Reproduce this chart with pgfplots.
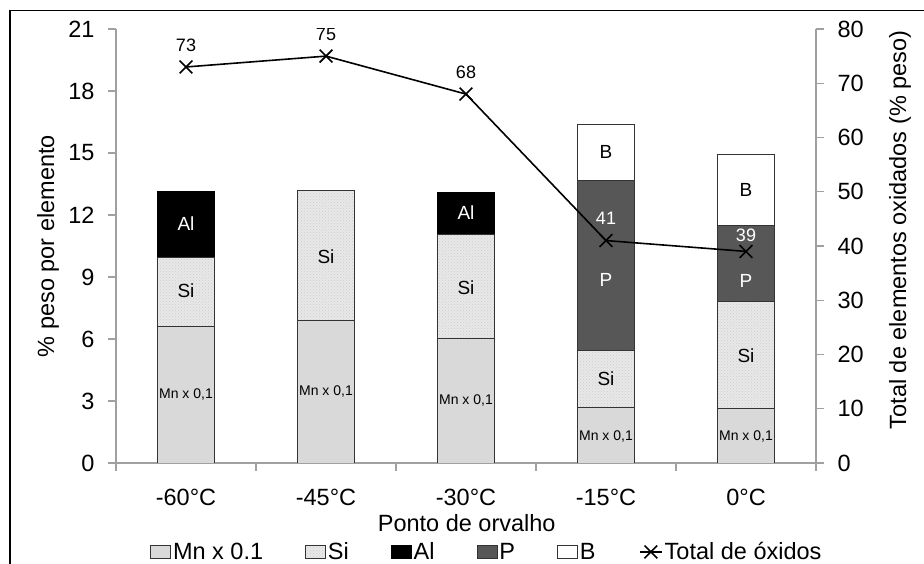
\documentclass[border=0pt]{standalone}
\usepackage{fontspec}
\setmainfont{Liberation Sans}
\usepackage{pgfplots}
\pgfplotsset{compat=1.18}
\usepackage{pgfplotstable}
\usetikzlibrary{patterns}

\definecolor{mncol}{HTML}{D9D9D9}
\definecolor{sicol}{HTML}{E8E8E8}
\definecolor{pcol}{HTML}{575757}
\definecolor{axcol}{HTML}{A0A0A0}
\newcommand\bigf{\fontsize{23.5}{28}\selectfont}
\newcommand\mnf{\fontsize{14}{16}\selectfont}
\newcommand\segf{\fontsize{19}{22}\selectfont}
\newcommand\valf{\fontsize{18}{20}\selectfont}

\pgfplotsset{
  boxleg/.style={legend image code/.code={\draw[##1] (0pt,-6.5pt) rectangle (20pt,6.5pt);}},
  linleg/.style={legend image code/.code={\draw[##1, mark=none] (0pt,0pt) -- (22pt,0pt); \draw[##1] plot coordinates {(11pt,0pt)};}},
}

\pgfplotstableread{
x Mn Si Al P B
0 6.6 3.35 3.2 0 0
1 6.9 6.3 0 0 0
2 6.05 5.0 2.05 0 0
3 2.7 2.75 0 8.2 2.75
4 2.65 5.15 0 3.7 3.45
}\bars

\pgfplotstableread{
x T
0 73
1 75
2 68
3 41
4 39
}\tot

\begin{document}
\begin{tikzpicture}[x=1pt,y=1pt]
\useasboundingbox (0,0) rectangle (924,564);
\draw[line width=1.8pt] (10,0) -- (10,553.5) -- (924,553.5);
\begin{axis}[
  at={(116pt,101pt)}, anchor=south west,
  scale only axis, width=700pt, height=434pt,
  xmin=-0.5, xmax=4.5, ymin=0, ymax=21,
  ytick={0,3,...,21},
  ybar stacked, bar width=0.41,
  axis x line*=bottom, axis y line*=left,
  axis line style={draw=axcol, line width=1.2pt},
  tick align=outside, major tick length=8pt,
  tick style={draw=axcol, line width=1.2pt},
  xtick={-0.5,0.5,...,4.5}, xticklabels={},
  extra x ticks={0,1,2,3,4},
  extra x tick labels={-60°C,-45°C,-30°C,-15°C,0°C},
  extra x tick style={major tick length=0pt, tick label style={yshift=-23pt}},
  /pgf/number format/assume math mode=true,
  tick label style={font=\bigf, black},
  yticklabel style={xshift=-10pt},
  xlabel={Ponto de orvalho},
  xlabel style={font=\bigf, at={(axis description cs:0.501,-0.138)}, anchor=center},
  ylabel={\% peso por elemento},
  ylabel style={font=\bigf, at={(axis description cs:-0.097,0.5)}, anchor=center},
  legend columns=5,
  legend style={draw=none, fill=none, font=\bigf, at={(axis description cs:0.0486,-0.205)}, anchor=west,
    inner sep=0pt, /tikz/every even column/.append style={column sep=40pt}, nodes={inner sep=2pt}},
  legend cell align=left,
]
\addplot[boxleg, fill=mncol, draw=black!80, line width=0.8pt] table[x=x,y=Mn]{\bars};
\addplot[boxleg, fill=sicol, draw=black!80, line width=0.8pt, postaction={pattern=crosshatch dots, pattern color=gray!40}] table[x=x,y=Si]{\bars};
\addplot[boxleg, fill=black, draw=black, line width=0.8pt] table[x=x,y=Al]{\bars};
\addplot[boxleg, fill=pcol, draw=black!80, line width=0.8pt] table[x=x,y=P]{\bars};
\addplot[boxleg, fill=white, draw=black!80, line width=0.8pt] table[x=x,y=B]{\bars};
\legend{Mn x 0.1, Si, Al, P, B}
\end{axis}

\begin{axis}[
  at={(116pt,101pt)}, anchor=south west,
  scale only axis, width=700pt, height=434pt,
  xmin=-0.5, xmax=4.5, ymin=0, ymax=80,
  ytick={0,10,...,80},
  axis x line=none, axis y line*=right,
  axis line style={draw=axcol, line width=1.2pt},
  tick align=outside, major tick length=8pt,
  tick style={draw=axcol, line width=1.2pt},
  /pgf/number format/assume math mode=true,
  tick label style={font=\bigf, black},
  yticklabel style={xshift=10pt},
  ylabel={Total de elementos oxidados (\% peso)},
  ylabel style={font=\bigf, at={(axis description cs:1.12,0.537)}, anchor=center},
  legend style={draw=none, fill=none, font=\bigf, at={(axis description cs:0.747,-0.205)}, anchor=west,
    inner sep=0pt, nodes={inner sep=2pt}},
  legend cell align=left,
]
% segment labels (positions in right-axis units = left value x 80/21)
\node[font=\mnf] at (axis cs:0,12.57) {Mn x 0,1};
\node[font=\mnf] at (axis cs:1,13.14) {Mn x 0,1};
\node[font=\mnf] at (axis cs:2,11.54) {Mn x 0,1};
\node[font=\mnf] at (axis cs:3,4.95) {Mn x 0,1};
\node[font=\mnf] at (axis cs:4,4.95) {Mn x 0,1};
\node[font=\segf] at (axis cs:0,31.81) {Si};
\node[font=\segf, text=white] at (axis cs:0,44.19) {Al};
\node[font=\segf] at (axis cs:1,38.10) {Si};
\node[font=\segf] at (axis cs:2,32.38) {Si};
\node[font=\segf, text=white] at (axis cs:2,46.10) {Al};
\node[font=\segf] at (axis cs:3,15.62) {Si};
\node[font=\segf, text=white] at (axis cs:3,33.71) {P};
\node[font=\segf] at (axis cs:3,57.33) {B};
\node[font=\segf] at (axis cs:4,19.81) {Si};
\node[font=\segf, text=white] at (axis cs:4,33.52) {P};
\node[font=\segf] at (axis cs:4,50.29) {B};
\addplot[linleg, black, line width=1.6pt, mark=x, mark size=9pt, mark options={solid}] table[x=x,y=T]{\tot};
\addlegendentry{Total de óxidos}
\node[font=\valf, yshift=22pt] at (axis cs:0,73) {73};
\node[font=\valf, yshift=22pt] at (axis cs:1,75) {75};
\node[font=\valf, yshift=22pt] at (axis cs:2,68) {68};
\node[font=\valf, yshift=22pt, text=white] at (axis cs:3,41) {41};
\node[font=\valf, yshift=16pt, text=white] at (axis cs:4,39) {39};
\end{axis}
\end{tikzpicture}
\end{document}
